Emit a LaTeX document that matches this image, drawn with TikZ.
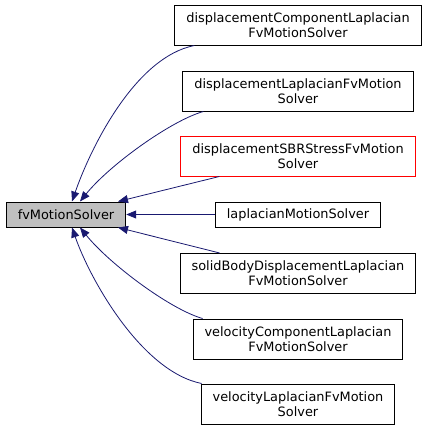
\documentclass[tikz,border=0pt]{standalone}
\usepackage{fontspec}
\setmainfont{DejaVu Sans}
\usepackage{tikz}
\usetikzlibrary{arrows.meta}
\definecolor{edgeBlue}{HTML}{191970}
\definecolor{mainFill}{HTML}{BFBFBF}
\tikzstyle{classBox}=[shape = rectangle, draw = black, line width = 1pt, fill = white, align = center, minimum height = 40pt, inner xsep = 11.5pt, inner ysep = 0pt, font = \fontsize{12.9}{15}\selectfont]
\tikzstyle{classBoxRed}=[classBox, draw = red]
\tikzstyle{classBoxMain}=[classBox, fill = mainFill, minimum height = 25pt]

\begin{document}
\begin{tikzpicture}[x = 1pt, y = -1pt]
\tikzstyle{inheritEdge}=[draw = edgeBlue, line width = 0.8pt, -{Triangle[length = 10pt, width = 8pt]}]
\useasboundingbox (0,0) rectangle (427,431);
\node[classBoxMain] (v0) at (66,214.5) {fvMotionSolver};
\node[classBox] (v1) at (298,25) {displacementComponentLaplacian\\FvMotionSolver};
\node[classBox] (v2) at (298,91) {displacementLaplacianFvMotion\\Solver};
\node[classBoxRed] (v3) at (298,156) {displacementSBRStressFvMotion\\Solver};
\node[classBox, minimum height = 25pt] (v4) at (298,214.5) {laplacianMotionSolver};
\node[classBox] (v5) at (298,273.5) {solidBodyDisplacementLaplacian\\FvMotionSolver};
\node[classBox] (v6) at (298,339) {velocityComponentLaplacian\\FvMotionSolver};
\node[classBox] (v7) at (298,404) {velocityLaplacianFvMotion\\Solver};
\draw[inheritEdge] ([xshift = 20pt]v1.south west) .. controls +(-60,12) and +(18,-52) .. ([xshift = 6pt]v0.north);
\draw[inheritEdge] ([xshift = 21pt]v2.south west) .. controls +(-32,9) and +(30,-37) .. ([xshift = 14pt]v0.north);
\draw[inheritEdge] ([xshift = 39pt]v3.south west) -- ([xshift = 52pt]v0.north);
\draw[inheritEdge] (v4.west) -- (v0.east);
\draw[inheritEdge] ([xshift = 40pt]v5.north west) -- ([xshift = 52pt]v0.south);
\draw[inheritEdge] ([xshift = 10pt]v6.north west) .. controls +(-32,-9) and +(30,37) .. ([xshift = 14pt]v0.south);
\draw[inheritEdge] ([xshift = 1pt]v7.north west) .. controls +(-60,-12) and +(18,52) .. ([xshift = 6pt]v0.south);
\end{tikzpicture}
\end{document}
